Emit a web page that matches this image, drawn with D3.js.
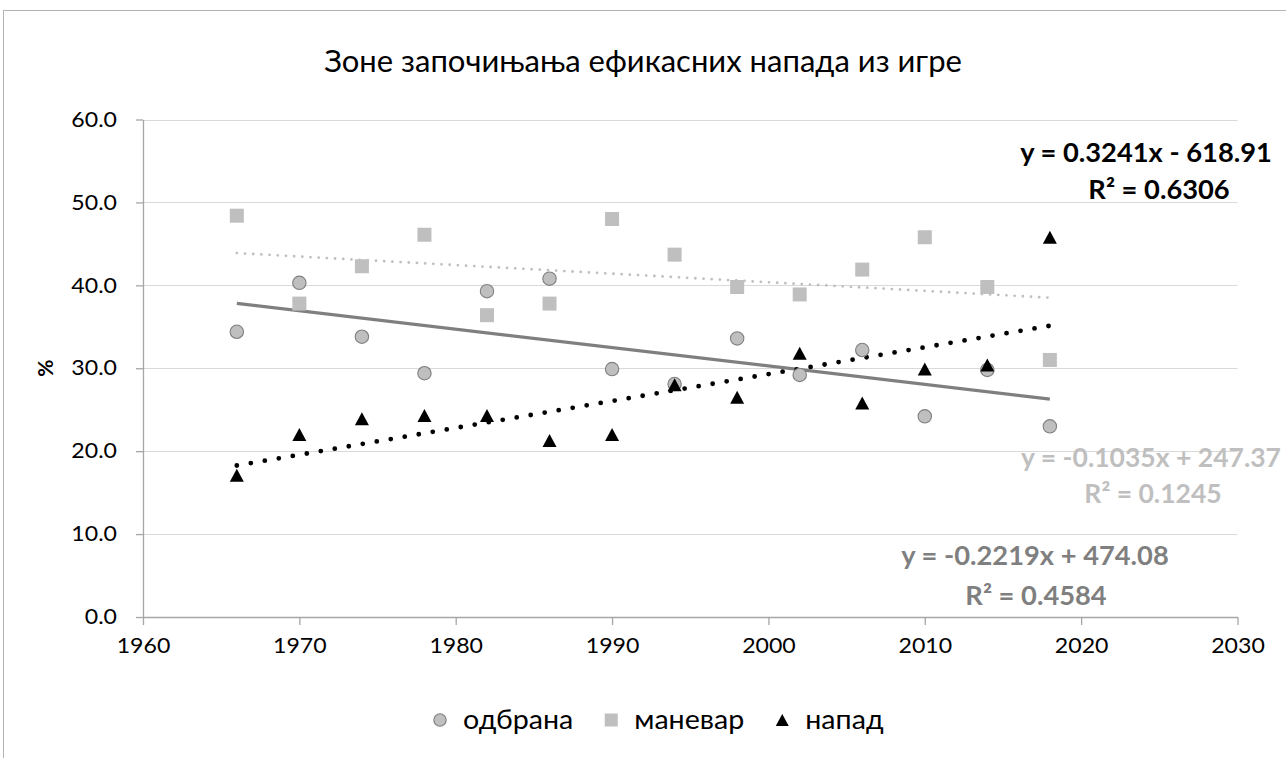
<!DOCTYPE html>
<html>
<head>
<meta charset="utf-8">
<script src="https://cdn.jsdelivr.net/npm/d3@7"></script>
<style>
  body { margin: 0; background: #fff; }
  text { font-family: Lato, "Open Sans", sans-serif; }
</style>
</head>
<body>
<svg id="canvas" width="1286" height="758"></svg>
<script>
// data
let years = [1966, 1970, 1974, 1978, 1982, 1986, 1990, 1994, 1998, 2002, 2006, 2010, 2014, 2018]
let odbrana = [34.4, 40.3, 33.8, 29.4, 39.3, 40.8, 29.9, 28.1, 33.6, 29.2, 32.2, 24.2, 29.8, 23.0]
let manevar = [48.4, 37.8, 42.3, 46.1, 36.4, 37.8, 48.0, 43.7, 39.8, 38.9, 41.9, 45.8, 39.8, 31.0]
let napad = [17.1, 22.0, 23.9, 24.3, 24.3, 21.3, 22.0, 28.0, 26.5, 31.8, 25.8, 29.9, 30.4, 45.8]
let seriesNames = ['одбрана', 'маневар', 'напад']

// linear trend lines as printed on the chart
let trendSlopes = [-0.2219, -0.1035, 0.3241]
let trendIntercepts = [474.08, 247.37, -618.91]
let trendR2 = ['0.4584', '0.1245', '0.6306']

let yTicks = [0, 10, 20, 30, 40, 50, 60]
let xTicks = [1960, 1970, 1980, 1990, 2000, 2010, 2020, 2030]

let titleText = 'Зоне започињања ефикасних напада из игре'
let yTitle = '%'

// the original text looks a bit wider than Lato, so most text gets stretched
let SX = 1.1

let svg = d3.select('#canvas')

let x = d3.scaleLinear().domain([1960, 2030]).range([143, 1237.5])
let y = d3.scaleLinear().domain([0, 60]).range([617, 119.5])

let addText = (g, px, py, str, size, opts) => {
    opts = opts || {}
    let sx = opts.sx || SX
    return g.append('text')
        .attr('transform', 'translate(' + px + ',' + py + ') scale(' + sx + ',1)')
        .attr('text-anchor', opts.anchor || 'middle')
        .attr('font-size', size)
        .attr('font-weight', opts.weight || 'normal')
        .attr('fill', opts.fill || '#000')
        .text(str)
}

// outer frame
svg.append('rect')
    .attr('x', 3.5).attr('y', 10.5)
    .attr('width', 1400).attr('height', 900)
    .attr('fill', 'none')
    .attr('stroke', '#b3b3b3')

// title
addText(svg, 643, 72, titleText, 31, { sx: 1 })

// gridlines
svg.append('g')
    .selectAll('line')
    .data(yTicks.filter(d => d > 0))
    .enter()
    .append('line')
    .attr('x1', x(1960)).attr('x2', x(2030))
    .attr('y1', d => Math.round(y(d)) + 0.5)
    .attr('y2', d => Math.round(y(d)) + 0.5)
    .attr('stroke', '#d9d9d9')
    .attr('stroke-width', 1.2)

// axes
let yAxis = d3.axisLeft(y)
    .tickValues(yTicks)
    .tickFormat(d3.format('.1f'))
    .tickSize(7)
    .tickSizeOuter(0)

let yg = svg.append('g')
    .attr('transform', 'translate(' + x(1960) + ',0)')
    .call(yAxis)
yg.select('.domain').attr('stroke', '#a6a6a6').attr('stroke-width', 1.3)
yg.selectAll('.tick line').attr('stroke', '#a6a6a6').attr('stroke-width', 1.3)
yg.selectAll('.tick text')
    .attr('x', 0)
    .attr('transform', 'translate(-26,0) scale(' + SX + ',1)')
    .attr('font-size', 21)
    .attr('font-family', 'Lato, sans-serif')
    .attr('fill', '#000')

let xAxis = d3.axisBottom(x)
    .tickValues(xTicks)
    .tickFormat(d3.format('d'))
    .tickSize(8)
    .tickSizeOuter(0)
    .tickPadding(13)

let xg = svg.append('g')
    .attr('transform', 'translate(0,' + y(0) + ')')
    .call(xAxis)
xg.select('.domain').attr('stroke', '#a6a6a6').attr('stroke-width', 1.3)
xg.selectAll('.tick line').attr('stroke', '#a6a6a6').attr('stroke-width', 1.3)
xg.selectAll('.tick text')
    .attr('transform', 'scale(' + SX + ',1)')
    .attr('font-size', 21)
    .attr('font-family', 'Lato, sans-serif')
    .attr('fill', '#000')

// y axis title
svg.append('text')
    .attr('transform', 'translate(53,' + y(30) + ') rotate(-90)')
    .attr('text-anchor', 'middle')
    .attr('font-size', 21)
    .attr('font-weight', 'bold')
    .text(yTitle)

// trend lines
let trendStyles = [
    { stroke: '#7f7f7f', width: 3.2, dash: null, cap: 'butt' },
    { stroke: '#bfbfbf', width: 2.8, dash: '0 8.2', cap: 'round' },
    { stroke: '#000000', width: 4.8, dash: '0 14.2', cap: 'round' }
]
let trendLine = d3.line().x(d => x(d[0])).y(d => y(d[1]))
let x0 = d3.min(years), x1 = d3.max(years)

trendSlopes.forEach((m, i) => {
    let b = trendIntercepts[i]
    let st = trendStyles[i]
    svg.append('path')
        .datum([[x0, m * x0 + b], [x1, m * x1 + b]])
        .attr('d', trendLine)
        .attr('fill', 'none')
        .attr('stroke', st.stroke)
        .attr('stroke-width', st.width)
        .attr('stroke-linecap', st.cap)
        .attr('stroke-dasharray', st.dash)
})

// markers
let triangle = (w, h) => 'M0,' + (-h / 2) + 'L' + (w / 2) + ',' + (h / 2) + 'L' + (-w / 2) + ',' + (h / 2) + 'Z'

let drawMarker = (g, kind, big) => {
    if (kind === 0) {
        g.append('circle')
            .attr('r', big ? 6.7 : 6.2)
            .attr('fill', '#bfbfbf')
            .attr('stroke', '#7f7f7f')
            .attr('stroke-width', 1.1)
    } else if (kind === 1) {
        let s = big ? 14 : 13
        g.append('rect')
            .attr('x', -s / 2).attr('y', -s / 2)
            .attr('width', s).attr('height', s)
            .attr('fill', '#bfbfbf')
    } else {
        g.append('path')
            .attr('d', big ? triangle(14, 13) : triangle(13, 12))
            .attr('fill', '#000')
    }
}

let allSeries = [odbrana, manevar, napad]
allSeries.forEach((vals, i) => {
    let pts = svg.append('g')
        .selectAll('g')
        .data(vals)
        .enter()
        .append('g')
        .attr('transform', (d, k) => 'translate(' + x(years[k]) + ',' + y(d) + ')')
    pts.each(function () { drawMarker(d3.select(this), i, true) })
})

// trend labels
let labelSpots = [
    { cx1: 1035, cx2: 1036, by: 565, gap: 40, fill: '#7f7f7f' },
    { cx1: 1151, cx2: 1153, by: 467, gap: 36, fill: '#bfbfbf' },
    { cx1: 1146, cx2: 1159, by: 162, gap: 37, fill: '#000000' }
]
trendSlopes.forEach((m, i) => {
    let b = trendIntercepts[i]
    let sp = labelSpots[i]
    let eq = 'y = ' + m.toFixed(4) + 'x ' + (b < 0 ? '- ' : '+ ') + Math.abs(b).toFixed(2)
    let sx = i === 1 ? 1.02 : 1.05
    addText(svg, sp.cx1, sp.by, eq, 26, { weight: 'bold', fill: sp.fill, sx: sx })
    addText(svg, sp.cx2, sp.by + sp.gap, 'R² = ' + trendR2[i], 26, { weight: 'bold', fill: sp.fill, sx: sx })
})

// legend
let legend = svg.append('g')
let lx = 440
seriesNames.forEach((name, i) => {
    let m = legend.append('g').attr('transform', 'translate(' + lx + ',720)')
    drawMarker(m, i, false)
    let t = addText(legend, lx + 23, 729, name, 26, { anchor: 'start' })
    lx = lx + 23 + t.node().getComputedTextLength() * SX + 38
})
</script>
</body>
</html>
